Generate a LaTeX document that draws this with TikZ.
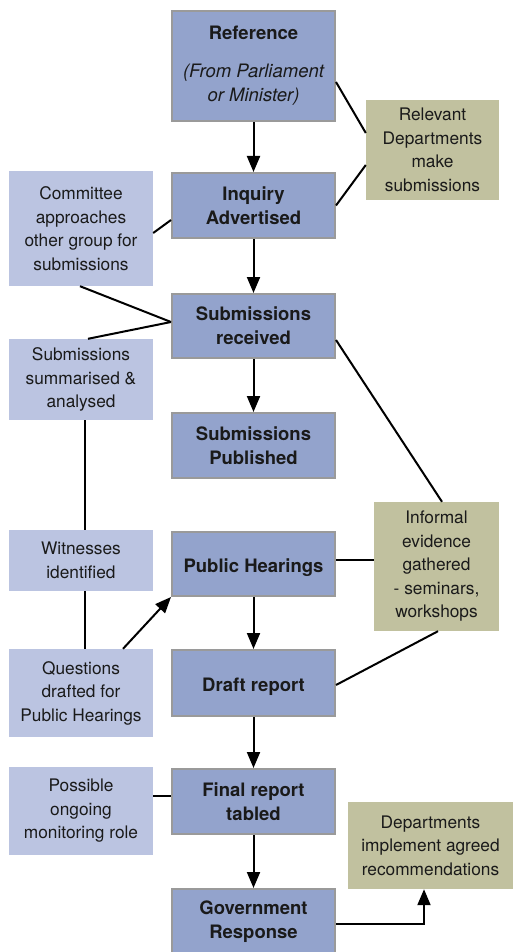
\documentclass[tikz,border=0pt]{standalone}
\usepackage{fontspec}
\setmainfont{TeX Gyre Heros}
\usetikzlibrary{arrows.meta}
\definecolor{mainfill}{HTML}{93A3CC}
\definecolor{mainborder}{HTML}{9A9A9A}
\definecolor{sidefill}{HTML}{BBC4E1}
\definecolor{olivefill}{HTML}{C1C19F}
\definecolor{txt}{HTML}{1A1A1A}
\begin{document}
\begin{tikzpicture}[x=1pt,y=-1pt,
  every node/.style={font=\fontsize{17.3}{23.5}\selectfont, text=txt, align=center, inner sep=0pt},
  mainbox/.style={rectangle, fill=mainfill, draw=mainborder, line width=2pt, minimum width=163pt, font=\fontsize{18.5}{24}\selectfont\bfseries, execute at begin node={\rule{0pt}{16.5pt}}},
  oneline/.style={text height=17.4pt, text depth=0pt},
  sidebox/.style={rectangle, fill=sidefill, minimum width=144pt, execute at begin node={\rule{0pt}{15.6pt}}},
  olivebox/.style={rectangle, fill=olivefill, execute at begin node={\rule{0pt}{15.6pt}}},
  conn/.style={draw=black, line width=2pt},
  arr/.style={conn, -{Triangle[length=16pt,width=13pt]}}]
\useasboundingbox (0,0) rectangle (513,952);
% main column
\node[mainbox, minimum height=110pt, execute at begin node={\rule{0pt}{20.5pt}}] (ref) at (253.5,66) {Reference\\[14pt]\normalfont\itshape (From Parliament\\\normalfont\itshape or Minister)};
\node[mainbox, minimum height=65pt] (inq) at (253.5,205.5) {Inquiry\\Advertised};
\node[mainbox, minimum height=64pt] (recv) at (253.5,326) {Submissions\\received};
\node[mainbox, minimum height=65pt] (pubd) at (253.5,445.5) {Submissions\\Published};
\node[mainbox, oneline, minimum height=64pt] (hear) at (253.5,564) {Public Hearings};
\node[mainbox, oneline, minimum height=66pt] (draft) at (253.5,683) {Draft report};
\node[mainbox, minimum height=65pt] (final) at (253.5,801.5) {Final report\\tabled};
\node[mainbox, minimum height=65pt] (gov) at (253.5,921.5) {Government\\Response};
% left column
\node[sidebox, minimum height=115pt] (comm) at (81,228.5) {Committee\\approaches\\other group for\\submissions};
\node[sidebox, minimum height=81pt] (summ) at (81,379.5) {Submissions\\summarised \&\\analysed};
\node[sidebox, minimum height=61pt] (wit) at (81,560.5) {Witnesses\\identified};
\node[sidebox, minimum height=88pt] (ques) at (81,693) {Questions\\drafted for\\Public Hearings};
\node[sidebox, minimum height=88pt] (poss) at (81,811) {Possible\\ongoing\\monitoring role};
% right column
\node[olivebox, minimum width=133pt, minimum height=100pt] (rel) at (432.5,150) {Relevant\\Departments\\make\\submissions};
\node[olivebox, minimum width=125pt, minimum height=129pt] (inf) at (436.5,566.5) {Informal\\evidence\\gathered\\- seminars,\\workshops};
\node[olivebox, minimum width=165pt, minimum height=87pt] (dep) at (430.5,845.5) {Departments\\implement agreed\\recommendations};
% main arrows
\draw[arr] (ref.south) -- (inq.north);
\draw[arr] (inq.south) -- (recv.north);
\draw[arr] (recv.south) -- (pubd.north);
\draw[arr] (hear.south) -- (draft.north);
\draw[arr] (draft.south) -- (final.north);
\draw[arr] (final.south) -- (gov.north);
% other connectors
\draw[conn] ([yshift=-16pt]ref.east) -- ([yshift=17pt]rel.west);
\draw[conn] (inq.east) -- ([yshift=-15pt]rel.west);
\draw[conn] ([yshift=-4.5pt]comm.east) -- ([yshift=-14.5pt]inq.west);
\coordinate (rj) at ([yshift=4pt]recv.west);
\draw[conn] ([xshift=-1pt]comm.south) -- (rj);
\draw[conn] ([xshift=7pt]summ.north) -- (rj);
\draw[conn] ([yshift=-14pt]recv.east) -- ([xshift=5.5pt]inf.north);
\draw[conn] ([yshift=4pt]hear.east) -- ([yshift=4pt]hear.east -| inf.west);
\draw[conn] ([xshift=1.5pt]inf.south) -- ([yshift=-2pt]draft.east);
\draw[conn] ([xshift=4pt]summ.south) -- ([xshift=4pt]wit.north);
\draw[conn] ([xshift=4pt]wit.south) -- ([xshift=4pt]ques.north);
\draw[arr] ([xshift=42pt]ques.north) -- (hear.south west);
\draw[conn] ([yshift=15pt]poss.east) -- ([yshift=15pt]poss.east -| final.west);
\draw[arr] ([yshift=-2.5pt]gov.east) -| ([xshift=-6.5pt]dep.south);
\end{tikzpicture}
\end{document}
